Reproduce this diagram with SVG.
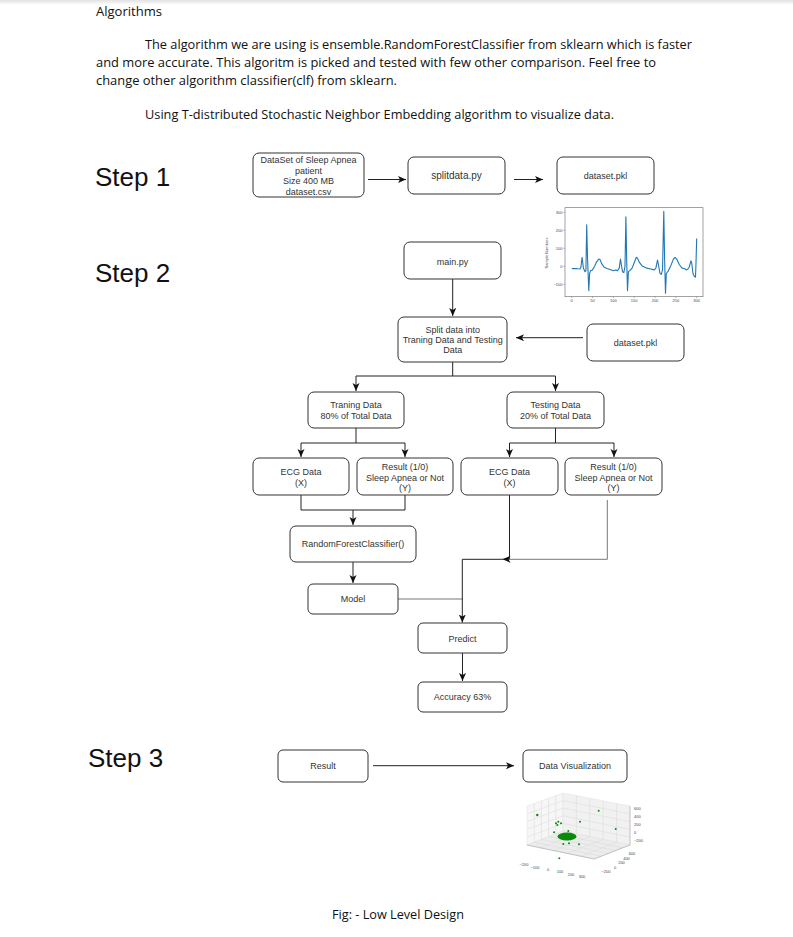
<svg xmlns="http://www.w3.org/2000/svg" width="793" height="937" viewBox="0 0 793 937">
<defs>
<linearGradient id="shade" x1="0" y1="0" x2="0" y2="1">
<stop offset="0" stop-color="#e2e2e2"/>
<stop offset="1" stop-color="#ffffff"/>
</linearGradient>
<marker id="arr" markerUnits="userSpaceOnUse" markerWidth="9" markerHeight="8" refX="8" refY="3.5" orient="auto">
<path d="M0,0 L8,3.5 L0,7 L2,3.5 Z" fill="#111"/>
</marker>
<style>
.doc{font-family:"Open Sans","Liberation Sans",sans-serif;font-size:13.5px;fill:#111}
.step{font-family:"Liberation Sans",Arial,sans-serif;font-size:26px;fill:#111}
.box rect{fill:#fff;stroke:#333;stroke-width:1}
.box text{font-family:"Liberation Sans",Arial,sans-serif;font-size:9px;fill:#333;text-anchor:middle}
.con{fill:none;stroke:#222;stroke-width:1}
.con .g{stroke:#777}
.tick{font-family:"Liberation Sans",Arial,sans-serif;font-size:4px;fill:#444}
.grid{stroke:#d9d9d9;stroke-width:0.5;fill:none}
.pt{fill:#0a8a0a}
</style>
</defs>
<rect x="0" y="0" width="793" height="937" fill="#fff"/>
<rect x="0" y="0" width="793" height="5" fill="url(#shade)"/>

<g id="header">
<text class="doc" x="96" y="16" textLength="66" lengthAdjust="spacingAndGlyphs">Algorithms</text>
<text class="doc" x="145" y="49" textLength="547" lengthAdjust="spacingAndGlyphs">The algorithm we are using is ensemble.RandomForestClassifier from sklearn which is faster</text>
<text class="doc" x="96" y="67" textLength="560" lengthAdjust="spacingAndGlyphs">and more accurate. This algoritm is picked and tested with few other comparison. Feel free to</text>
<text class="doc" x="96" y="85" textLength="301" lengthAdjust="spacingAndGlyphs">change other algorithm classifier(clf) from sklearn.</text>
<text class="doc" x="145" y="119" textLength="469" lengthAdjust="spacingAndGlyphs">Using T-distributed Stochastic Neighbor Embedding algorithm to visualize data.</text>
</g>

<g id="steps">
<text class="step" x="95" y="186">Step 1</text>
<text class="step" x="95" y="282">Step 2</text>
<text class="step" x="88" y="767">Step 3</text>
</g>

<g id="connectors" class="con">
<path d="M368,179.5 H406" marker-end="url(#arr)"/>
<path d="M514,179.5 H543" marker-end="url(#arr)"/>
<path d="M452.7,279 V316" marker-end="url(#arr)"/>
<path d="M583,337.7 H516" marker-end="url(#arr)"/>
<path d="M452.7,362 V376 H356 V391" marker-end="url(#arr)"/>
<path d="M452.7,376 H555.5 V391" marker-end="url(#arr)"/>
<path d="M356,428 V443 H301 V457" marker-end="url(#arr)"/>
<path d="M356,443 H405 V457" marker-end="url(#arr)"/>
<path d="M555.5,428 V443 H509.5 V457" marker-end="url(#arr)"/>
<path d="M555.5,443 H614 V457" marker-end="url(#arr)"/>
<path d="M301,495 V510 H405 V495"/>
<path d="M353,510 V525" marker-end="url(#arr)"/>
<path d="M353,562 V583" marker-end="url(#arr)"/>
<path class="g" d="M398,599 H462.3"/>
<path d="M509.5,495 V559.3 H462.3 V622.5" marker-end="url(#arr)"/>
<path class="g" d="M607.3,500 V559.3 H502.5" marker-end="url(#arr)"/>
<path d="M462.5,653 V681" marker-end="url(#arr)"/>
<path d="M373,765.7 H514" marker-end="url(#arr)"/>
</g>

<g id="n-dataset-csv" class="box">
<rect x="253" y="153" width="111" height="44" rx="6"/>
<text x="308.5" y="163.2">DataSet of Sleep Apnea</text>
<text x="308.5" y="173.9">patient</text>
<text x="308.5" y="184.2">Size 400 MB</text>
<text x="308.5" y="194.9">dataset.csv</text>
</g>
<g id="n-splitdata" class="box">
<rect x="408" y="157" width="97" height="37" rx="6"/>
<text x="456.5" y="179" style="font-size:10px">splitdata.py</text>
</g>
<g id="n-dataset-pkl-1" class="box">
<rect x="557" y="157" width="97" height="37" rx="6"/>
<text x="605.5" y="178.5">dataset.pkl</text>
</g>
<g id="n-main" class="box">
<rect x="404" y="242" width="97" height="37" rx="6"/>
<text x="452.5" y="264.8">main.py</text>
</g>
<g id="n-split" class="box">
<rect x="398" y="317" width="109" height="45" rx="6"/>
<text x="452.7" y="332.5">Split data into</text>
<text x="452.7" y="342.5">Traning Data and Testing</text>
<text x="452.7" y="353.2">Data</text>
</g>
<g id="n-dataset-pkl-2" class="box">
<rect x="587" y="324" width="97" height="37" rx="6"/>
<text x="635.5" y="346.3">dataset.pkl</text>
</g>
<g id="n-training" class="box">
<rect x="308" y="392" width="96" height="36" rx="6"/>
<text x="356" y="408">Traning Data</text>
<text x="356" y="418.5">80% of Total Data</text>
</g>
<g id="n-testing" class="box">
<rect x="507" y="392" width="97" height="36" rx="6"/>
<text x="555.5" y="408">Testing Data</text>
<text x="555.5" y="418.5">20% of Total Data</text>
</g>
<g id="n-ecg-train" class="box">
<rect x="253" y="458" width="96" height="37" rx="6"/>
<text x="301" y="475">ECG Data</text>
<text x="301" y="485.5">(X)</text>
</g>
<g id="n-result-train" class="box">
<rect x="357" y="458" width="96" height="37" rx="6"/>
<text x="405" y="470">Result (1/0)</text>
<text x="405" y="480.5">Sleep Apnea or Not</text>
<text x="405" y="491">(Y)</text>
</g>
<g id="n-ecg-test" class="box">
<rect x="461" y="458" width="97" height="37" rx="6"/>
<text x="509.5" y="475">ECG Data</text>
<text x="509.5" y="485.5">(X)</text>
</g>
<g id="n-result-test" class="box">
<rect x="565" y="458" width="97" height="37" rx="6"/>
<text x="613.5" y="470">Result (1/0)</text>
<text x="613.5" y="480.5">Sleep Apnea or Not</text>
<text x="613.5" y="491">(Y)</text>
</g>
<g id="n-rfc" class="box">
<rect x="290" y="526" width="126" height="36" rx="6"/>
<text x="353" y="547.3">RandomForestClassifier()</text>
</g>
<g id="n-model" class="box">
<rect x="308" y="584" width="90" height="30" rx="5"/>
<text x="353" y="602.3">Model</text>
</g>
<g id="n-predict" class="box">
<rect x="418" y="623" width="89" height="30" rx="5"/>
<text x="462.5" y="641.5">Predict</text>
</g>
<g id="n-accuracy" class="box">
<rect x="418" y="682" width="89" height="30" rx="5"/>
<text x="462.5" y="700">Accuracy 63%</text>
</g>
<g id="n-result" class="box">
<rect x="278" y="750" width="90" height="32" rx="5"/>
<text x="323" y="768.8">Result</text>
</g>
<g id="n-datavis" class="box">
<rect x="523" y="750" width="104" height="32" rx="5"/>
<text x="575" y="768.8">Data Visualization</text>
</g>

<g id="ecg-plot">
<rect x="565" y="207.7" width="138" height="89" fill="#fff" stroke="#666" stroke-width="0.6"/>
<g stroke="#666" stroke-width="0.5">
<path d="M563.5,212.3H565 M563.5,230.3H565 M563.5,248.3H565 M563.5,266.3H565 M563.5,284.3H565"/>
<path d="M571.7,296.7V298 M592.5,296.7V298 M613.4,296.7V298 M634.2,296.7V298 M655,296.7V298 M675.9,296.7V298 M696.7,296.7V298"/>
</g>
<g class="tick" text-anchor="end">
<text x="562.5" y="213.7">300</text>
<text x="562.5" y="231.7">200</text>
<text x="562.5" y="249.7">100</text>
<text x="562.5" y="267.7">0</text>
<text x="562.5" y="285.7">−100</text>
</g>
<g class="tick" text-anchor="middle">
<text x="571.7" y="302.3">0</text>
<text x="592.5" y="302.3">50</text>
<text x="613.4" y="302.3">100</text>
<text x="634.2" y="302.3">150</text>
<text x="655" y="302.3">200</text>
<text x="675.9" y="302.3">250</text>
<text x="696.7" y="302.3">300</text>
</g>
<text class="tick" transform="translate(548,253) rotate(-90)" text-anchor="middle">Sample Numbers</text>
<polyline fill="none" stroke="#1f77b4" stroke-width="1.1" stroke-linejoin="round" points="571.7,268.5 573.8,268.6 575.9,268.5 578,268.8 580,269 580.9,267.2 582.1,257.3 583.4,268.1 585,271.7 585.9,270.8 586.7,224.9 587.5,257.3 588.4,280.7 588.8,290.6 589.6,273.5 590.5,270.8 592.5,269.9 594.6,266.3 596.7,261.8 598.8,259.1 600,259.5 601.7,263.6 604.2,267.2 607.1,268.5 610,269.5 613.4,270.8 615.9,269.9 617.5,270.8 619.2,268.1 620.5,259.1 621.3,264.5 622.5,271.7 623.8,272.6 625,266.3 625.9,216.8 626.7,260.9 627.5,290.6 628.4,271.7 630,270.3 632.1,268.1 634.2,262.7 636.3,257.3 637.5,258.2 639.6,262.7 642.5,266.3 646.7,268.1 650.9,269 654.2,269.9 655.9,268.1 657.5,260 658.4,264.5 660,273.5 661.3,274.4 662.5,269.9 663.8,211.4 664.6,259.1 665.5,293.3 666.3,273.5 668.4,270.8 670.9,265.4 673.4,259.1 675,257.3 676.7,259.1 679.2,264.5 682.1,268.1 684.2,268.5 686.3,269.9 688,269 689.2,267.2 690.9,260.9 691.7,262.7 693,273.5 694.2,276.2 695.5,277.1 695.9,266.3 696.7,238.4"/>
</g>

<g id="scatter-3d">
<polygon points="563,793 527,806 527,845 563,831" fill="#f6f6f6" stroke="#e0e0e0" stroke-width="0.5"/>
<polygon points="563,793 630,806 630,845 563,831" fill="#f1f1f1" stroke="#e0e0e0" stroke-width="0.5"/>
<polygon points="563,831 527,845 594,859 630,845" fill="#ececec" stroke="#e0e0e0" stroke-width="0.5"/>
<path class="grid" d="M555.8,795.6V833.8 M548.6,798.2V836.6 M541.4,800.8V839.4 M534.2,803.4V842.2 M563,800.6L527,813.8 M563,808.2L527,821.6 M563,815.8L527,829.4 M563,823.4L527,837.2"/>
<path class="grid" d="M576.4,795.6V833.8 M589.8,798.2V836.6 M603.2,800.8V839.4 M616.6,803.4V842.2 M563,800.6L630,813.8 M563,808.2L630,821.6 M563,815.8L630,829.4 M563,823.4L630,837.2"/>
<path class="grid" d="M555.8,833.8L622.8,847.8 M548.6,836.6L615.6,850.6 M541.4,839.4L608.4,853.4 M534.2,842.2L601.2,856.2 M576.4,833.8L540.4,847.8 M589.8,836.6L553.8,850.6 M603.2,839.4L567.2,853.4 M616.6,842.2L580.6,856.2"/>
<path d="M527,845 L594,859 L630,845 V806" fill="none" stroke="#999" stroke-width="0.5"/>
<g class="tick" text-anchor="start">
<text x="634" y="810">600</text>
<text x="634" y="818">400</text>
<text x="634" y="826">200</text>
<text x="634" y="833.5">0</text>
<text x="634" y="841.5">−200</text>
</g>
<g class="tick" text-anchor="middle">
<text x="524" y="866">−200</text>
<text x="535" y="868.5">−100</text>
<text x="548" y="870.5">0</text>
<text x="560" y="873">100</text>
<text x="571" y="875.5">200</text>
<text x="582" y="877.5">300</text>
<text x="606" y="872.5">−200</text>
<text x="615" y="868.5">0</text>
<text x="621.5" y="864">200</text>
<text x="626.5" y="859.5">400</text>
<text x="632" y="854.5">600</text>
</g>
<ellipse class="pt" cx="567" cy="836.5" rx="9.5" ry="4"/>
<circle class="pt" cx="537.3" cy="815" r="1.2"/>
<circle class="pt" cx="556" cy="823.3" r="1"/>
<circle class="pt" cx="558.3" cy="821.7" r="1"/>
<circle class="pt" cx="561" cy="823.3" r="1"/>
<circle class="pt" cx="557.3" cy="825" r="1"/>
<circle class="pt" cx="554" cy="832.3" r="1"/>
<circle class="pt" cx="568.3" cy="831" r="1"/>
<circle class="pt" cx="580" cy="821.7" r="1"/>
<circle class="pt" cx="598.7" cy="810.7" r="1"/>
<circle class="pt" cx="615.7" cy="829" r="1"/>
<circle class="pt" cx="563.3" cy="844" r="1"/>
<circle class="pt" cx="569" cy="843.3" r="1"/>
<circle class="pt" cx="579" cy="844.3" r="1"/>
<circle class="pt" cx="559.3" cy="858.3" r="1"/>
</g>

<g id="caption">
<text class="doc" x="332" y="919" textLength="132" lengthAdjust="spacingAndGlyphs">Fig: - Low Level Design</text>
</g>
</svg>
